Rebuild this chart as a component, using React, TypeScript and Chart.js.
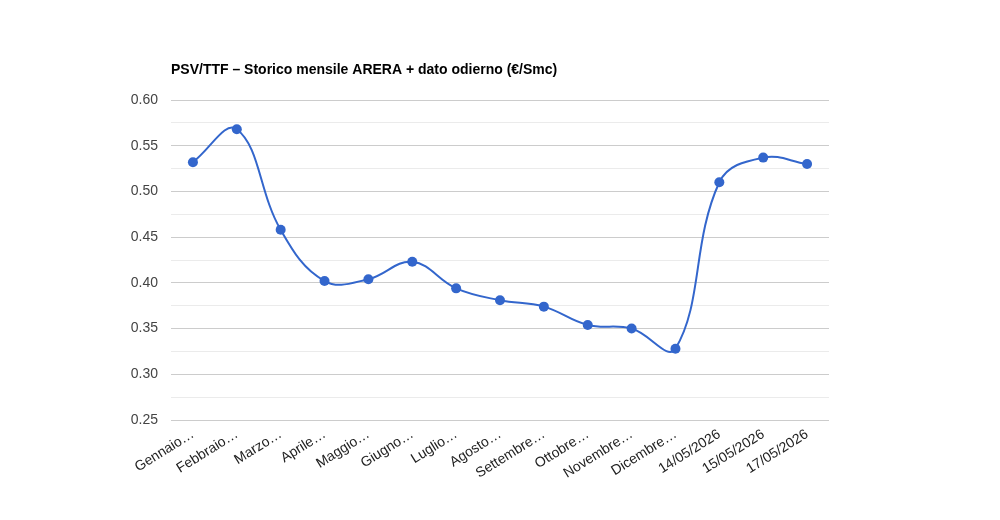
import { useEffect, useRef } from "react"
import { Chart, registerables, type ChartConfiguration } from "chart.js"

Chart.register(...registerables)

const categories = [
  "Gennaio…",
  "Febbraio…",
  "Marzo…",
  "Aprile…",
  "Maggio…",
  "Giugno…",
  "Luglio…",
  "Agosto…",
  "Settembre…",
  "Ottobre…",
  "Novembre…",
  "Dicembre…",
  "14/05/2026",
  "15/05/2026",
  "17/05/2026",
]

const prices = [0.532, 0.568, 0.458, 0.402, 0.404, 0.423, 0.394, 0.381, 0.374, 0.354, 0.35, 0.328, 0.51, 0.537, 0.53]

const yMin = 0.25
const yMax = 0.6
const yStep = 0.025

const FONT = "Arial, 'Liberation Sans', sans-serif"

export default function App() {
  const canvasRef = useRef<HTMLCanvasElement>(null)
  const chartRef = useRef<Chart | null>(null)

  useEffect(() => {
    if (!canvasRef.current) return
    const ctx = canvasRef.current.getContext("2d")
    if (!ctx) return

    if (chartRef.current) chartRef.current.destroy()

    const config: ChartConfiguration = {
      type: "line",
      data: {
        labels: categories,
        datasets: [
          {
            label: "PSV/TTF",
            data: prices,
            borderColor: "#3366cc",
            backgroundColor: "#3366cc",
            borderWidth: 2,
            pointRadius: 5,
            pointHoverRadius: 5,
            pointBorderWidth: 0,
            tension: 0.4,
            fill: false,
          },
        ],
      },
      options: {
        animation: false,
        responsive: true,
        maintainAspectRatio: false,
        layout: { padding: { left: 0, right: 171, top: 0, bottom: 0 } },
        plugins: {
          legend: { display: false },
          tooltip: { enabled: false },
          title: {
            display: true,
            text: "PSV/TTF – Storico mensile ARERA + dato odierno (€/Smc)",
            align: "start",
            fullSize: false,
            color: "#000",
            font: { family: FONT, size: 14, weight: "bold" },
            padding: { top: 62, bottom: 21.2 },
          },
        },
        scales: {
          x: {
            offset: true,
            grid: { display: false, drawTicks: false },
            border: { display: false },
            ticks: {
              autoSkip: false,
              minRotation: 32,
              maxRotation: 32,
              padding: 6,
              color: "#222",
              font: { family: FONT, size: 14 },
            },
            afterFit: (scale) => {
              scale.height = 100
            },
          },
          y: {
            min: yMin,
            max: yMax,
            grid: {
              drawTicks: false,
              color: (c) => (c.index % 2 === 0 ? "#cccccc" : "#ebebeb"),
            },
            border: { display: false },
            ticks: {
              stepSize: yStep,
              padding: 13,
              color: "#444",
              font: { family: FONT, size: 14 },
              callback: (value, index) => (index % 2 === 0 ? Number(value).toFixed(2) : ""),
            },
            afterFit: (scale) => {
              scale.width = 171
            },
          },
        },
      },
    }

    chartRef.current = new Chart(ctx, config)

    return () => {
      if (chartRef.current) {
        chartRef.current.destroy()
        chartRef.current = null
      }
    }
  }, [])

  return (
    <div style={{ position: "fixed", left: 0, top: 0, width: 1000, height: 520, background: "#fff" }}>
      <canvas ref={canvasRef} />
    </div>
  )
}
